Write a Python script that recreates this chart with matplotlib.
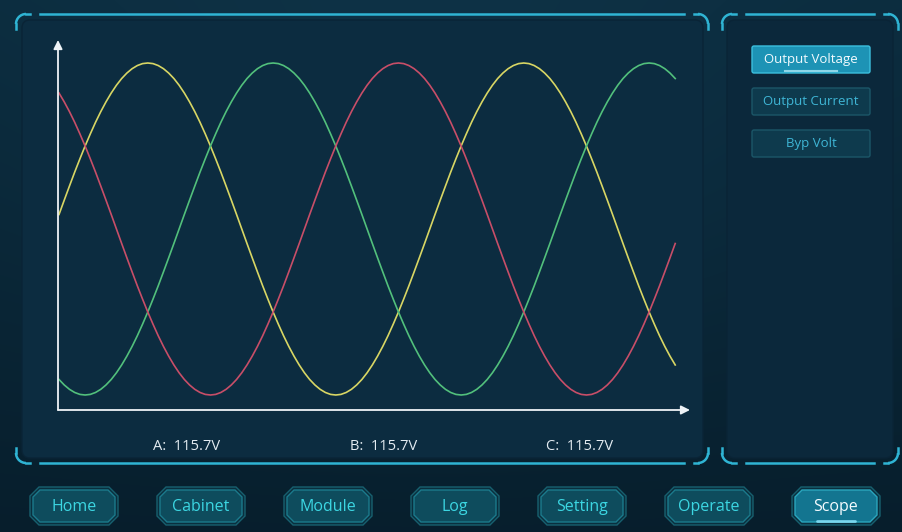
import numpy as np
import matplotlib
matplotlib.use("Agg")
import matplotlib.pyplot as plt
from matplotlib.patches import Polygon, FancyBboxPatch, Arc

# ---------------- data ----------------
# phase position of each sample (degrees from the left edge of the trace)
phase_deg = list(range(0, 595, 5))

yellow_v = [14.3, 28.4, 42.3, 56.0, 69.1, 81.8, 93.8, 105.2, 115.7, 125.3, 134.0, 141.7,
            148.3, 153.7, 158.0, 161.1, 163.0, 163.6, 163.0, 161.1, 158.0, 153.7, 148.3,
            141.7, 134.0, 125.3, 115.7, 105.2, 93.8, 81.8, 69.1, 56.0, 42.3, 28.4, 14.3,
            0.0,
            -14.3, -28.4, -42.3, -56.0, -69.1, -81.8, -93.8, -105.2, -115.7, -125.3, -134.0, -141.7,
            -148.3, -153.7, -158.0, -161.1, -163.0, -163.6, -163.0, -161.1, -158.0, -153.7, -148.3,
            -141.7, -134.0, -125.3, -115.7, -105.2, -93.8, -81.8, -69.1, -56.0, -42.3, -28.4, -14.3,
            0.0,
            14.3, 28.4, 42.3, 56.0, 69.1, 81.8, 93.8, 105.2, 115.7, 125.3, 134.0, 141.7,
            148.3, 153.7, 158.0, 161.1, 163.0, 163.6, 163.0, 161.1, 158.0, 153.7, 148.3,
            141.7, 134.0, 125.3, 115.7, 105.2, 93.8, 81.8, 69.1, 56.0, 42.3, 28.4, 14.3,
            0.0,
            -14.3, -28.4, -42.3, -56.0, -69.1, -81.8, -93.8, -105.2, -115.7, -125.3, -134.0]

green_v = [-148.3, -153.7, -158.0, -161.1, -163.0, -163.6, -163.0, -161.1, -158.0, -153.7, -148.3,
           -141.7, -134.0, -125.3, -115.7, -105.2, -93.8, -81.8, -69.1, -56.0, -42.3, -28.4, -14.3,
           0.0,
           14.3, 28.4, 42.3, 56.0, 69.1, 81.8, 93.8, 105.2, 115.7, 125.3, 134.0, 141.7,
           148.3, 153.7, 158.0, 161.1, 163.0, 163.6, 163.0, 161.1, 158.0, 153.7, 148.3,
           141.7, 134.0, 125.3, 115.7, 105.2, 93.8, 81.8, 69.1, 56.0, 42.3, 28.4, 14.3,
           0.0,
           -14.3, -28.4, -42.3, -56.0, -69.1, -81.8, -93.8, -105.2, -115.7, -125.3, -134.0, -141.7,
           -148.3, -153.7, -158.0, -161.1, -163.0, -163.6, -163.0, -161.1, -158.0, -153.7, -148.3,
           -141.7, -134.0, -125.3, -115.7, -105.2, -93.8, -81.8, -69.1, -56.0, -42.3, -28.4, -14.3,
           0.0,
           14.3, 28.4, 42.3, 56.0, 69.1, 81.8, 93.8, 105.2, 115.7, 125.3, 134.0, 141.7,
           148.3, 153.7, 158.0, 161.1, 163.0, 163.6, 163.0, 161.1, 158.0, 153.7, 148.3]

red_v = [134.0, 125.3, 115.7, 105.2, 93.8, 81.8, 69.1, 56.0, 42.3, 28.4, 14.3,
         0.0,
         -14.3, -28.4, -42.3, -56.0, -69.1, -81.8, -93.8, -105.2, -115.7, -125.3, -134.0, -141.7,
         -148.3, -153.7, -158.0, -161.1, -163.0, -163.6, -163.0, -161.1, -158.0, -153.7, -148.3,
         -141.7, -134.0, -125.3, -115.7, -105.2, -93.8, -81.8, -69.1, -56.0, -42.3, -28.4, -14.3,
         0.0,
         14.3, 28.4, 42.3, 56.0, 69.1, 81.8, 93.8, 105.2, 115.7, 125.3, 134.0, 141.7,
         148.3, 153.7, 158.0, 161.1, 163.0, 163.6, 163.0, 161.1, 158.0, 153.7, 148.3,
         141.7, 134.0, 125.3, 115.7, 105.2, 93.8, 81.8, 69.1, 56.0, 42.3, 28.4, 14.3,
         0.0,
         -14.3, -28.4, -42.3, -56.0, -69.1, -81.8, -93.8, -105.2, -115.7, -125.3, -134.0, -141.7,
         -148.3, -153.7, -158.0, -161.1, -163.0, -163.6, -163.0, -161.1, -158.0, -153.7, -148.3,
         -141.7, -134.0, -125.3, -115.7, -105.2, -93.8, -81.8, -69.1, -56.0, -42.3, -28.4, -14.3]

phase_labels = ["A:  115.7V", "B:  115.7V", "C:  115.7V"]
side_buttons = ["Output Voltage", "Output Current", "Byp Volt"]
nav_buttons = ["Home", "Cabinet", "Module", "Log", "Setting", "Operate", "Scope"]

FONT = ["Open Sans", "DejaVu Sans"]

# ---------------- figure & background ----------------
W, H = 902, 532
fig = plt.figure(figsize=(W / 100, H / 100), dpi=100)
bg = fig.add_axes([0, 0, 1, 1])
bg.set_xlim(0, W)
bg.set_ylim(H, 0)
bg.axis("off")

yy, xx = np.mgrid[0:H, 0:W]
top = np.array([12, 44, 62]) / 255.0
bot = np.array([7, 30, 44]) / 255.0
f = (yy / H)[..., None]
img = top * (1 - f) + bot * f
glow = np.exp(-(((xx - 420) / 380.0) ** 2 + ((yy - 140) / 260.0) ** 2))[..., None]
img = img + glow * np.array([0.01, 0.03, 0.04])
bg.imshow(np.clip(img, 0, 1), extent=[0, W, H, 0], aspect="auto", zorder=0)

# panels
bg.add_patch(FancyBboxPatch((22, 20), 681, 438, boxstyle="round,pad=0,rounding_size=8",
                            fc="#0c2c40", ec="#0a2436", lw=1.0, zorder=1))
bg.add_patch(FancyBboxPatch((727, 20), 166, 438, boxstyle="round,pad=0,rounding_size=8",
                            fc="#0b283b", ec="#0a2436", lw=1.0, zorder=1))

CY = "#2fb4d4"


def corner(cx, cy, r, t1, t2):
    bg.add_patch(Arc((cx, cy), 2 * r, 2 * r, theta1=t1, theta2=t2, color=CY, lw=1.8, zorder=3))


def frame(x0, x1, y0, y1):
    r = 10
    bg.plot([x0 + 24, x1 - 24], [y0, y0], color=CY, lw=1.8, zorder=3)
    bg.plot([x0 + 24, x1 - 24], [y1, y1], color=CY, lw=1.8, zorder=3)
    corner(x0 + r, y0 + r, r, 180, 270)
    bg.plot([x0, x0], [y0 + r, y0 + r + 5], color=CY, lw=1.8, zorder=3)
    bg.plot([x0 + r, x0 + r + 4], [y0, y0], color=CY, lw=1.8, zorder=3)
    corner(x1 - r, y0 + r, r, 270, 360)
    bg.plot([x1, x1], [y0 + r, y0 + r + 5], color=CY, lw=1.8, zorder=3)
    bg.plot([x1 - r - 4, x1 - r], [y0, y0], color=CY, lw=1.8, zorder=3)
    corner(x0 + r, y1 - r, r, 90, 180)
    bg.plot([x0, x0], [y1 - r - 5, y1 - r], color=CY, lw=1.8, zorder=3)
    bg.plot([x0 + r, x0 + r + 4], [y1, y1], color=CY, lw=1.8, zorder=3)
    corner(x1 - r, y1 - r, r, 0, 90)
    bg.plot([x1, x1], [y1 - r - 5, y1 - r], color=CY, lw=1.8, zorder=3)
    bg.plot([x1 - r - 4, x1 - r], [y1, y1], color=CY, lw=1.8, zorder=3)


frame(16, 708, 14, 463)
frame(722, 898, 14, 463)

# phase labels
for lab, x in zip(phase_labels, [187, 384, 580]):
    bg.text(x, 446, lab, color="#e4ecf2", fontsize=10.5, family=FONT,
            ha="center", va="center", zorder=4)

# side buttons
for i, lab in enumerate(side_buttons):
    y0 = 46 + i * 42
    sel = i == 0
    bg.add_patch(FancyBboxPatch((752, y0), 118, 27, boxstyle="round,pad=0,rounding_size=2",
                                fc="#1d93b5" if sel else "#0e3a4d",
                                ec="#3cc0de" if sel else "#1c5668", lw=1.0, zorder=3))
    if sel:
        bg.plot([785, 837], [y0 + 25, y0 + 25], color="#bff4ff", lw=1.5, alpha=0.7, zorder=4)
    bg.text(811, y0 + 14, lab, color="#f2fbff" if sel else "#3fb6d6", fontsize=9.5,
            family=FONT, ha="center", va="center", zorder=4)


def octo(x0, y0, x1, y1, c):
    return [(x0 + c, y0), (x1 - c, y0), (x1, y0 + c), (x1, y1 - c),
            (x1 - c, y1), (x0 + c, y1), (x0, y1 - c), (x0, y0 + c)]


# bottom nav buttons
for i, lab in enumerate(nav_buttons):
    x0 = 30 + i * 127
    x1 = x0 + 88
    y0, y1 = 487, 525
    sel = lab == "Scope"
    bg.add_patch(Polygon(octo(x0, y0, x1, y1, 9), closed=True, fc="#0a2f3e",
                         ec="#17606f", lw=1.0, zorder=3))
    bg.add_patch(Polygon(octo(x0 + 3, y0 + 3, x1 - 3, y1 - 3, 7), closed=True,
                         fc="#137590" if sel else "#0e4c5d",
                         ec="#2aa6bd" if sel else "#1b7a8c", lw=1.0, zorder=3))
    if sel:
        bg.plot([x0 + 25, x1 - 25], [y1 - 4, y1 - 4], color="#8fe8ff", lw=2.0,
                alpha=0.8, zorder=4, solid_capstyle="round")
    bg.text((x0 + x1) / 2, (y0 + y1) / 2 + 1, lab,
            color="#f4fbff" if sel else "#3cd6e2", fontsize=11.5, family=FONT,
            ha="center", va="center", zorder=5)

# ---------------- scope trace axes ----------------
px_per_deg = 376.0 / 360.0
px_per_v = 166.0 / 163.6
x_left_px, x_right_px = 58, 690
y_top_px, y_bot_px = 40, 410
x0_px, yc_px = 59, 229

ax = fig.add_axes([x_left_px / W, 1 - y_bot_px / H,
                   (x_right_px - x_left_px) / W, (y_bot_px - y_top_px) / H])
ax.set_facecolor("none")
ax.set_xlim((x_left_px - x0_px) / px_per_deg, (x_right_px - x0_px) / px_per_deg)
ax.set_ylim(-(y_bot_px - yc_px) / px_per_v, (yc_px - y_top_px) / px_per_v)
for s in ax.spines.values():
    s.set_visible(False)
ax.set_xticks([])
ax.set_yticks([])

ax.plot(phase_deg, yellow_v, color="#d8d664", lw=1.2)
ax.plot(phase_deg, green_v, color="#52c07c", lw=1.2)
ax.plot(phase_deg, red_v, color="#c84e68", lw=1.2)

arrow = dict(arrowstyle="-|>", color="#eef3f6", lw=1.3, mutation_scale=13,
             shrinkA=0, shrinkB=0)
ax.annotate("", xy=(1, 0), xytext=(0, 0), xycoords="axes fraction",
            textcoords="axes fraction", arrowprops=arrow, annotation_clip=False)
ax.annotate("", xy=(0, 1), xytext=(0, 0), xycoords="axes fraction",
            textcoords="axes fraction", arrowprops=arrow, annotation_clip=False)

fig.savefig("out.png", dpi=100)
